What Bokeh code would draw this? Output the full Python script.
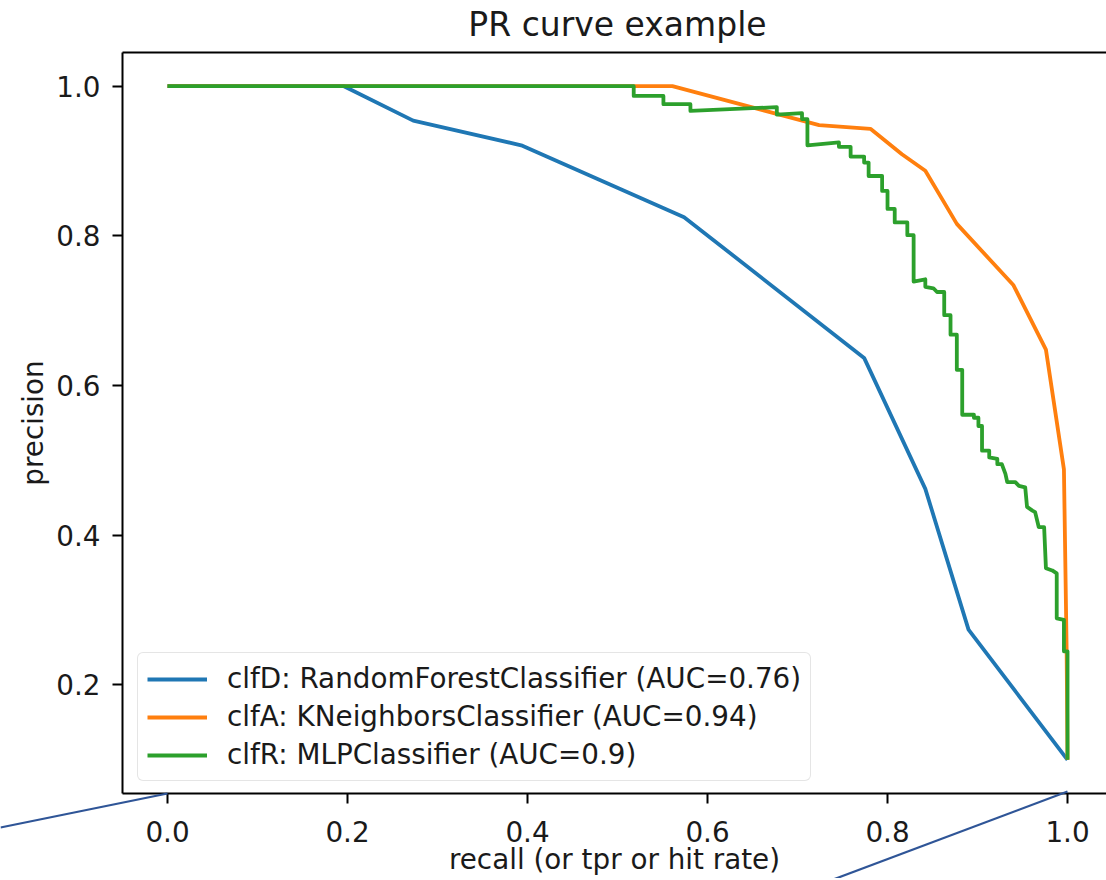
from bokeh.plotting import figure
from bokeh.models import Range1d, FixedTicker, LinearAxis, Legend, LegendItem
from bokeh.core.properties import value
from bokeh.embed import file_html
from bokeh.resources import INLINE

# ---- data ----
clfD_recall = [0.0, 0.196, 0.273, 0.393, 0.574, 0.774, 0.842, 0.890, 1.0]
clfD_precision = [1.0, 1.0, 0.954, 0.921, 0.825, 0.637, 0.462, 0.274, 0.1]

clfA_recall = [0.0, 0.561, 0.724, 0.781, 0.816, 0.842, 0.877, 0.940, 0.976, 0.996, 0.999, 1.0]
clfA_precision = [1.0, 1.0, 0.948, 0.943, 0.909, 0.887, 0.816, 0.734, 0.648, 0.488, 0.247, 0.1]

clfR_recall = [0.0, 0.518, 0.518, 0.551, 0.551, 0.581, 0.581, 0.677, 0.677, 0.705, 0.705, 0.711,
               0.711, 0.746, 0.746, 0.759, 0.759, 0.774, 0.774, 0.779, 0.779, 0.794, 0.794, 0.800,
               0.800, 0.808, 0.808, 0.822, 0.822, 0.829, 0.829, 0.842, 0.842, 0.851, 0.855, 0.863,
               0.863, 0.870, 0.870, 0.877, 0.877, 0.883, 0.883, 0.896, 0.896, 0.901, 0.901, 0.905,
               0.905, 0.913, 0.913, 0.922, 0.922, 0.927, 0.931, 0.933, 0.942, 0.946, 0.953, 0.955,
               0.961, 0.964, 0.968, 0.974, 0.976, 0.983, 0.988, 0.988, 0.996, 0.996, 1.0, 1.0]
clfR_precision = [1.0, 1.0, 0.987, 0.987, 0.976, 0.976, 0.967, 0.972, 0.962, 0.964, 0.956, 0.956,
                  0.921, 0.925, 0.919, 0.919, 0.906, 0.906, 0.898, 0.898, 0.880, 0.880, 0.860, 0.860,
                  0.836, 0.836, 0.818, 0.818, 0.801, 0.801, 0.739, 0.742, 0.732, 0.730, 0.725, 0.725,
                  0.694, 0.694, 0.668, 0.668, 0.621, 0.621, 0.561, 0.561, 0.557, 0.557, 0.546, 0.546,
                  0.513, 0.513, 0.504, 0.502, 0.495, 0.495, 0.482, 0.471, 0.471, 0.466, 0.464, 0.438,
                  0.433, 0.431, 0.411, 0.411, 0.356, 0.353, 0.349, 0.289, 0.287, 0.245, 0.245, 0.1]

series_labels = ["clfD: RandomForestClassifier (AUC=0.76)",
                 "clfA: KNeighborsClassifier (AUC=0.94)",
                 "clfR: MLPClassifier (AUC=0.9)"]
series_colors = ["#1f77b4", "#ff7f0e", "#2ca02c"]

x_ticks = [0.0, 0.2, 0.4, 0.6, 0.8, 1.0]
x_tick_labels = ["0.0", "0.2", "0.4", "0.6", "0.8", "1.0"]
y_ticks = [0.2, 0.4, 0.6, 0.8, 1.0]
y_tick_labels = ["0.2", "0.4", "0.6", "0.8", "1.0"]

title_text = "PR curve example"

# decorative zoom-callout lines (overlay, page pixel space)
callout_x = [[0, 167], [830, 1067]]
callout_y = [[827, 793], [880, 791]]

FONT = "DejaVu Sans"
TXT = "#1a1a1a"
W, H = 1106, 878

p = figure(width=W, height=H, output_backend="svg", toolbar_location=None,
           x_range=Range1d(-0.05, 1.0433), y_range=Range1d(0.055, 1.045),
           x_axis_location=None, y_axis_location=None,
           min_border_left=122, min_border_right=0, min_border_top=52, min_border_bottom=H - 793)
p.outline_line_color = None
p.grid.visible = False
p.background_fill_color = "white"
p.border_fill_color = "white"


def style_axis(ax, ticks, labels):
    ax.ticker = FixedTicker(ticks=ticks)
    ax.major_label_overrides = {t: l for t, l in zip(ticks, labels)}
    ax.major_label_text_font = FONT
    ax.major_label_text_font_size = "27.8px"
    ax.major_label_text_color = TXT
    ax.axis_label_text_font = FONT
    ax.axis_label_text_font_size = "27.8px"
    ax.axis_label_text_font_style = "normal"
    ax.axis_label_text_color = TXT
    ax.axis_line_color = "black"
    ax.axis_line_width = 2
    ax.major_tick_line_color = "black"
    ax.major_tick_line_width = 2
    ax.major_tick_out = 10
    ax.major_tick_in = 0
    ax.minor_tick_line_color = None


xaxis = LinearAxis(axis_label="recall (or tpr or hit rate)")
style_axis(xaxis, x_ticks, x_tick_labels)
xaxis.major_label_standoff = 17
xaxis.axis_label_standoff = -2
p.add_layout(xaxis, "below")

yaxis = LinearAxis(axis_label="precision")
style_axis(yaxis, y_ticks, y_tick_labels)
yaxis.major_label_standoff = 12
yaxis.axis_label_standoff = 3
p.add_layout(yaxis, "left")

top = LinearAxis(ticker=FixedTicker(ticks=[]))
top.axis_line_color = "black"
top.axis_line_width = 2
top.major_tick_line_color = None
top.minor_tick_line_color = None
top.major_label_text_font_size = "0px"
p.add_layout(top, "above")

renderers = []
for xs, ys, c in [(clfD_recall, clfD_precision, series_colors[0]),
                  (clfA_recall, clfA_precision, series_colors[1]),
                  (clfR_recall, clfR_precision, series_colors[2])]:
    r = p.line(xs, ys, line_color=c, line_width=3.8, line_join="round")
    renderers.append(r)

legend = Legend(items=[LegendItem(label=lab, renderers=[r]) for lab, r in zip(series_labels, renderers)],
                location=(15, 12), margin=0, padding=9, spacing=5,
                glyph_width=60, glyph_height=30, label_height=30, label_standoff=20,
                label_text_font=FONT, label_text_font_size="27.8px", label_text_color=TXT,
                border_line_color="#cccccc", border_line_width=1.5,
                background_fill_color="white", background_fill_alpha=0.85)
if "border_radius" in Legend.properties():
    legend.border_radius = 6
p.add_layout(legend, "center")

# transparent overlay figure (separate root, absolutely positioned, page pixel space):
# carries the title and the callout lines that cross outside the plot frame
ov = figure(width=W, height=H, output_backend="svg", toolbar_location=None,
            x_range=Range1d(0, W), y_range=Range1d(H, 0),
            x_axis_location=None, y_axis_location=None,
            min_border=0, min_border_left=0, min_border_right=0, min_border_top=0, min_border_bottom=0)
ov.outline_line_color = None
ov.grid.visible = False
ov.background_fill_alpha = 0
ov.border_fill_alpha = 0
ov.multi_line(callout_x, callout_y, line_color="#2f5597", line_width=2.2)
ov.text(x=[617], y=[23.5], text=[title_text], text_align="center", text_baseline="alphabetic",
        text_font=value(FONT), text_font_size="33px", text_color=TXT)
ov.styles = {"position": "absolute", "left": "0px", "top": "0px", "pointer-events": "none"}

open("out.html", "w").write(file_html([p, ov], INLINE))
